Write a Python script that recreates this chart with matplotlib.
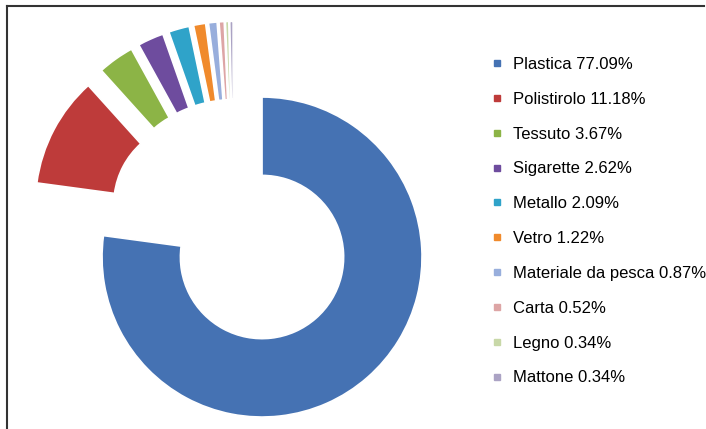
import matplotlib.pyplot as plt
from matplotlib.lines import Line2D

plt.rcParams['font.family'] = ['Liberation Sans', 'DejaVu Sans']

materials = ['Plastica', 'Polistirolo', 'Tessuto', 'Sigarette', 'Metallo',
             'Vetro', 'Materiale da pesca', 'Carta', 'Legno', 'Mattone']
percent = [77.09, 11.18, 3.67, 2.62, 2.09, 1.22, 0.87, 0.52, 0.34, 0.34]
colors = ['#4572B3', '#BE3B3A', '#8CB446', '#6E4C9E', '#2FA3C9',
          '#F08A2C', '#98AEDC', '#DDA5A5', '#C8D8A8', '#ABA3C4']

fig = plt.figure(figsize=(7.06, 4.29), dpi=100)
ax = fig.add_axes([0, 0, 1, 1])

wedges, _ = ax.pie(percent, colors=colors, startangle=90, counterclock=False,
                   radius=1, explode=[0.27] * len(percent),
                   wedgeprops=dict(width=0.49, edgecolor='white', linewidth=1.2))

# one data unit = 160 px, pie centre at (233.6, 224.5) px from top-left
ax.set_xlim(-233.6 / 160, (706 - 233.6) / 160)
ax.set_ylim(-204.5 / 160, (429 - 204.5) / 160)
ax.set_aspect('auto')
ax.axis('off')

handles = [Line2D([], [], marker='s', linestyle='none', markersize=4.5,
                  markerfacecolor=c, markeredgecolor=c) for c in colors]
labels = [f'{m} {p:.2f}%' for m, p in zip(materials, percent)]
ax.legend(handles, labels, loc='upper left', bbox_to_anchor=(491.5 / 706, 1 - 57 / 429),
          bbox_transform=fig.transFigure, frameon=False, fontsize=12,
          labelspacing=1.19, handlelength=0.6, handletextpad=0.69,
          borderpad=0, borderaxespad=0)

# partial frame: top and left edges
fig.add_artist(Line2D([7 / 706, 704 / 706], [1 - 6 / 429, 1 - 6 / 429],
                      transform=fig.transFigure, color='#333333', linewidth=1.5))
fig.add_artist(Line2D([7 / 706, 7 / 706], [1 - 6 / 429, 0],
                      transform=fig.transFigure, color='#333333', linewidth=1.5))

fig.savefig('out.png', dpi=100)
